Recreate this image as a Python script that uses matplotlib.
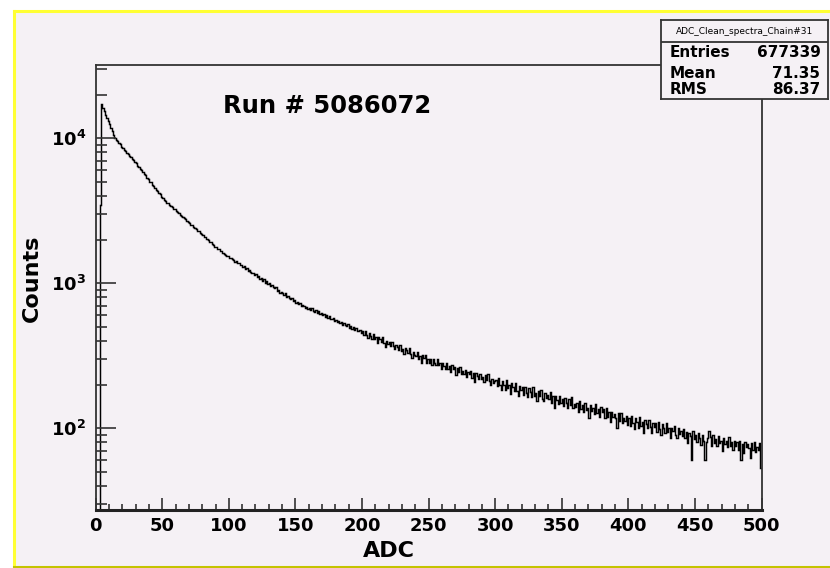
import numpy as np
import matplotlib
matplotlib.use('Agg')
import matplotlib.pyplot as plt
from matplotlib.lines import Line2D
from matplotlib.patches import Rectangle
from matplotlib.ticker import MultipleLocator, LogLocator, NullFormatter, FuncFormatter

# ADC clean spectrum, chain 31, one count bin per ADC channel (0..499)
counts_000_099 = [
    0, 0, 0, 3450, 17200, 16150, 15400, 14500, 13850, 13050,
    12450, 11700, 11150, 10450, 10050, 9700, 9500, 9230, 9080, 8760,
    8620, 8330, 8210, 7930, 7800, 7540, 7420, 7160, 7060, 6830,
    6720, 6480, 6380, 6150, 6040, 5860, 5650, 5560, 5320, 5260,
    5020, 4990, 4760, 4700, 4530, 4410, 4340, 4160, 4100, 3950,
    3870, 3760, 3720, 3600, 3560, 3460, 3410, 3330, 3270, 3230,
    3150, 3090, 3060, 2960, 2930, 2870, 2800, 2770, 2690, 2660,
    2610, 2540, 2510, 2440, 2400, 2370, 2300, 2290, 2220, 2180,
    2160, 2090, 2080, 2010, 1990, 1940, 1920, 1860, 1850, 1790,
    1780, 1735, 1725, 1670, 1660, 1620, 1600, 1570, 1540, 1530]
counts_100_199 = [
    1500, 1485, 1460, 1450, 1410, 1420, 1370, 1380, 1330, 1345,
    1300, 1310, 1260, 1280, 1220, 1240, 1200, 1170, 1185, 1140,
    1150, 1105, 1120, 1075, 1090, 1040, 1065, 1010, 1030, 985,
    1000, 960, 975, 940, 920, 935, 890, 905, 860, 875,
    850, 830, 850, 805, 815, 790, 775, 790, 750, 765,
    735, 745, 715, 730, 700, 712, 695, 680, 690, 665,
    680, 655, 670, 645, 635, 650, 620, 640, 610, 625,
    600, 615, 585, 605, 578, 590, 565, 570, 580, 550,
    560, 540, 552, 528, 542, 518, 530, 512, 505, 520,
    495, 505, 485, 498, 475, 488, 465, 470, 478, 455]
counts_200_299 = [
    468, 441, 469, 443, 421, 452, 435, 414, 448, 410,
    423, 390, 428, 412, 392, 425, 389, 365, 402, 382,
    391, 369, 391, 369, 351, 377, 363, 346, 374, 342,
    354, 326, 358, 344, 328, 355, 325, 306, 336, 320,
    314, 333, 301, 317, 284, 318, 303, 318, 283, 298,
    283, 299, 271, 300, 281, 271, 300, 272, 282, 255,
    283, 270, 255, 283, 257, 268, 245, 272, 255, 264,
    234, 262, 246, 266, 237, 248, 237, 254, 227, 244,
    236, 250, 222, 240, 210, 239, 228, 218, 236, 217,
    226, 208, 232, 214, 238, 213, 198, 220, 205, 211]
counts_300_399 = [
    214, 197, 221, 198, 183, 212, 200, 185, 216, 189,
    199, 171, 205, 194, 180, 204, 182, 166, 195, 183,
    191, 170, 194, 176, 163, 189, 179, 165, 193, 167,
    176, 155, 180, 168, 183, 160, 154, 176, 162, 169,
    158, 177, 150, 166, 138, 166, 157, 148, 167, 149,
    158, 143, 162, 149, 137, 158, 144, 163, 139, 148,
    141, 150, 129, 153, 135, 144, 129, 150, 134, 138,
    118, 144, 132, 139, 126, 146, 127, 135, 119, 140,
    129, 135, 118, 137, 120, 129, 110, 130, 120, 126,
    117, 101, 127, 113, 128, 109, 118, 112, 121, 106]
counts_400_499 = [
    118, 104, 121, 108, 99, 117, 110, 100, 120, 104,
    110, 93, 114, 107, 100, 114, 102, 92, 109, 102,
    109, 94, 110, 99, 90, 107, 100, 93, 109, 94,
    100, 86, 101, 95, 103, 90, 86, 100, 91, 96,
    88, 99, 85, 94, 79, 93, 89, 60, 95, 84,
    90, 81, 92, 85, 77, 90, 82, 60, 80, 86,
    96, 87, 76, 90, 79, 84, 76, 88, 79, 82,
    70, 85, 78, 82, 74, 87, 75, 80, 71, 82,
    76, 81, 71, 82, 60, 78, 68, 80, 74, 78,
    73, 62, 79, 71, 81, 69, 74, 71, 79, 53]

hist_name = 'ADC_Clean_spectra_Chain#31'
run_label = 'Run # 5086072'
stat_names = ['Entries', 'Mean', 'RMS']
stat_values = ['677339', '71.35', '86.37']

counts = np.array(counts_000_099 + counts_100_199 + counts_200_299 +
                  counts_300_399 + counts_400_499, dtype=float)
adc_edges = np.arange(len(counts) + 1)
# empty bins sit below the log range, like ROOT does
plot_counts = np.where(counts > 0, counts, 1.0)

pad_color = '#f5f1f5'
frame_color = '#333333'
W, H = 830.0, 568.0

plt.rcParams['font.family'] = 'DejaVu Sans'
plt.rcParams['font.weight'] = 'bold'

fig = plt.figure(figsize=(8.3, 5.68), dpi=100)
fig.patch.set_facecolor('white')

# canvas pad with its highlighted border
fig.add_artist(Rectangle((13.5 / W, 1.5 / H), 1 - 13.5 / W, (566.5 - 10.5) / H,
                         transform=fig.transFigure, fc=pad_color, ec='none', zorder=-10))
fig.add_artist(Line2D([13.5 / W, 13.5 / W], [1.5 / H, 1 - 10.5 / H], transform=fig.transFigure,
                      color='#ffff33', lw=2.2, zorder=-9))
fig.add_artist(Line2D([13.5 / W, 1.0], [1 - 10.5 / H, 1 - 10.5 / H], transform=fig.transFigure,
                      color='#ffff33', lw=2.2, zorder=-9))
fig.add_artist(Line2D([13.5 / W, 1.0], [1.5 / H, 1.5 / H], transform=fig.transFigure,
                      color='#c4c400', lw=2.2, zorder=-9))

ax = fig.add_axes([95.7 / W, (H - 510) / H, (761.5 - 95.7) / W, (510 - 65) / H])
ax.set_facecolor(pad_color)
ax.stairs(plot_counts, adc_edges, baseline=None, color='black', lw=1.05)

ax.set_xlim(0, 500)
ax.set_yscale('log')
ax.set_ylim(27.3, 32000)

ax.xaxis.set_major_locator(MultipleLocator(50))
ax.xaxis.set_minor_locator(MultipleLocator(10))
ax.yaxis.set_major_locator(LogLocator(base=10))
ax.yaxis.set_minor_locator(LogLocator(base=10, subs=np.arange(2, 10)))
ax.yaxis.set_minor_formatter(NullFormatter())
ax.yaxis.set_major_formatter(FuncFormatter(lambda v, p: r'$\mathbf{10^{%d}}$' % round(np.log10(v))))

ax.tick_params(axis='both', which='both', direction='in', top=False, right=False,
               color=frame_color, width=1.2)
ax.tick_params(axis='x', which='major', length=8.6, labelsize=13, pad=5)
ax.tick_params(axis='x', which='minor', length=4.3)
ax.tick_params(axis='y', which='major', length=14.5, labelsize=13, pad=7)
ax.tick_params(axis='y', which='minor', length=7.7)

for side in ['left', 'right', 'top']:
    ax.spines[side].set_color(frame_color)
    ax.spines[side].set_linewidth(1.3)
ax.spines['bottom'].set_color('#222222')
ax.spines['bottom'].set_linewidth(2.2)

ax.set_xlabel('ADC', fontsize=16, fontweight='bold')
ax.xaxis.set_label_coords(0.441, -0.092)
ax.xaxis.label.set_va('center')
ax.set_ylabel('Counts', fontsize=16, fontweight='bold')
ax.yaxis.set_label_coords(-0.0957, 0.521)
ax.yaxis.label.set_va('center')

ax.text(0.347, 0.908, run_label, transform=ax.transAxes, ha='center', va='center',
        fontsize=17.5, fontweight='bold')

# statistics box
sbox = fig.add_axes([661 / W, (H - 99) / H, 167 / W, 79 / H], zorder=5)
sbox.set_facecolor(pad_color)
sbox.set_xticks([])
sbox.set_yticks([])
sbox.set_xlim(0, 1)
sbox.set_ylim(0, 1)
for side in sbox.spines:
    sbox.spines[side].set_color(frame_color)
    sbox.spines[side].set_linewidth(1.3)
sbox.axhline((99 - 42) / 79.0, color=frame_color, lw=1.3)
sbox.text(0.5, 0.86, hist_name, ha='center', va='center', fontsize=6.5, fontweight='normal')
for name, val, yy in zip(stat_names, stat_values, [0.585, 0.32, 0.125]):
    sbox.text(0.054, yy, name, ha='left', va='center', fontsize=11, fontweight='bold')
    sbox.text(0.955, yy, val, ha='right', va='center', fontsize=11, fontweight='bold')

fig.savefig('out.png', dpi=100, facecolor=fig.get_facecolor())
